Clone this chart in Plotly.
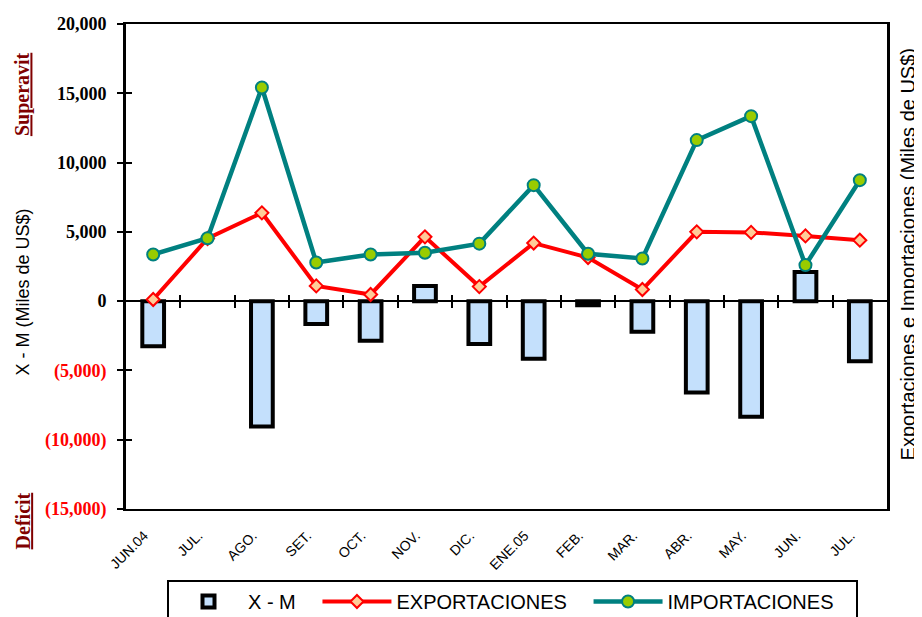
import plotly.graph_objects as go

categories = ["JUN.04", "JUL.", "AGO.", "SET.", "OCT.", "NOV.", "DIC.",
              "ENE.05", "FEB.", "MAR.", "ABR.", "MAY.", "JUN.", "JUL."]
exports = [120, 4520, 6370, 1100, 480, 4640, 1050, 4190, 3150, 840, 5000, 4960, 4710, 4400]
imports = [3370, 4540, 15420, 2790, 3370, 3490, 4150, 8370, 3420, 3080, 11620, 13350, 2600, 8730]
balance = [-3250, None, -9050, -1650, -2850, 1100, -3100, -4150, -300, -2200, -6600, -8350, 2100, -4330]

y_ticks = [-15000, -10000, -5000, 0, 5000, 10000, 15000, 20000]


def fmt(v):
    if v < 0:
        return '<span style="color:#ff0000">(' + f"{-v:,}" + ')</span>'
    return f"{v:,}"


y_ticktext = [fmt(v) for v in y_ticks]

x_idx = list(range(len(categories)))
boundaries = [i + 0.5 for i in x_idx[:-1]]
x_range = [-0.5, len(categories) - 0.5]
y_range = [y_ticks[0], y_ticks[-1]]

NB = "\u00a0"

fig = go.Figure()

fig.add_trace(go.Bar(
    x=x_idx, y=balance, name="X - M" + NB * 3, width=0.4,
    marker=dict(color="#c4e0fc", line=dict(color="black", width=4)),
))
fig.add_trace(go.Scatter(
    x=x_idx, y=exports, name="EXPORTACIONES" + NB * 3, mode="lines+markers",
    line=dict(color="#ff0000", width=4),
    marker=dict(symbol="diamond", size=10, color="#ffcc99",
                line=dict(color="#ff0000", width=2)),
))
fig.add_trace(go.Scatter(
    x=x_idx, y=imports, name="IMPORTACIONES" + NB * 3, mode="lines+markers",
    line=dict(color="#008080", width=4.5),
    marker=dict(symbol="circle", size=12, color="#99cc00",
                line=dict(color="#008080", width=2)),
))

# dummy traces to activate helper axes (crossing ticks)
fig.add_trace(go.Scatter(x=[None], y=[None], xaxis="x2", yaxis="y",
                         showlegend=False, hoverinfo="skip"))
fig.add_trace(go.Scatter(x=[None], y=[None], xaxis="x3", yaxis="y",
                         showlegend=False, hoverinfo="skip"))
fig.add_trace(go.Scatter(x=[None], y=[None], xaxis="x", yaxis="y3",
                         showlegend=False, hoverinfo="skip"))

zero_pos = (0 - y_range[0]) / (y_range[1] - y_range[0])

fig.update_layout(
    width=914, height=609,
    margin=dict(l=118, r=35, t=16, b=108),
    paper_bgcolor="white", plot_bgcolor="white",
    xaxis=dict(
        range=x_range, tickmode="array", tickvals=x_idx, ticktext=categories,
        tickangle=-45, tickfont=dict(family="Arial, Liberation Sans", size=14, color="black"),
        ticks="", ticklabelstandoff=11, ticklabelshift=-9,
        showgrid=False, zeroline=False,
        showline=True, linecolor="black", linewidth=2, mirror=True,
        automargin=False,
    ),
    xaxis2=dict(
        overlaying="x", anchor="free", position=zero_pos, range=x_range,
        tickmode="array", tickvals=boundaries, ticks="outside", ticklen=6,
        tickwidth=2, tickcolor="black", showticklabels=False,
        showgrid=False, zeroline=False, showline=False,
    ),
    xaxis3=dict(
        overlaying="x", anchor="free", position=zero_pos, side="top", range=x_range,
        tickmode="array", tickvals=boundaries, ticks="outside", ticklen=6,
        tickwidth=2, tickcolor="black", showticklabels=False,
        showgrid=False, zeroline=False, showline=False,
    ),
    yaxis=dict(
        range=y_range, tickmode="array", tickvals=y_ticks, ticktext=y_ticktext,
        tickfont=dict(family="Liberation Serif, Times New Roman", size=18,
                      color="black", weight="bold"),
        ticks="outside", ticklen=6, tickwidth=2, tickcolor="black",
        ticklabelstandoff=7,
        showgrid=False, zeroline=True, zerolinecolor="black", zerolinewidth=2,
        showline=True, linecolor="black", linewidth=3, mirror=True,
        automargin=False,
    ),
    yaxis3=dict(
        overlaying="y", anchor="x", side="left", range=y_range,
        tickmode="array", tickvals=y_ticks, ticks="inside", ticklen=6,
        tickwidth=2, tickcolor="black", showticklabels=False,
        showgrid=False, zeroline=False, showline=False,
    ),
    legend=dict(
        orientation="h", xref="container", yref="container",
        x=159 / 914, y=1 - 572 / 609, xanchor="left", yanchor="top",
        bordercolor="black", borderwidth=2, itemwidth=69,
        font=dict(family="Arial, Liberation Sans", size=20, color="black"),
    ),
    showlegend=True,
)

fig.add_annotation(
    text="X - M (Miles de US$)", textangle=-90, showarrow=False,
    xref="paper", yref="paper", x=-0.135, y=0.447, xanchor="center", yanchor="middle",
    font=dict(family="Arial, Liberation Sans", size=18, color="black"),
)
fig.add_annotation(
    text="Exportaciones e Importaciones (Miles de US$)", textangle=-90, showarrow=False,
    xref="paper", yref="paper", x=1.027, y=0.524, xanchor="center", yanchor="middle",
    font=dict(family="Arial, Liberation Sans", size=20, color="black"),
)
fig.add_annotation(
    text="<b><u>Superavit</u></b>", textangle=-90, showarrow=False,
    xref="paper", yref="paper", x=-0.135, y=0.856, xanchor="center", yanchor="middle",
    font=dict(family="Liberation Serif, Times New Roman", size=20, color="#800000"),
)
fig.add_annotation(
    text="<b><u>Deficit</u></b>", textangle=-90, showarrow=False,
    xref="paper", yref="paper", x=-0.135, y=-0.025, xanchor="center", yanchor="middle",
    font=dict(family="Liberation Serif, Times New Roman", size=20, color="#800000"),
)

fig.write_html("out.html")
